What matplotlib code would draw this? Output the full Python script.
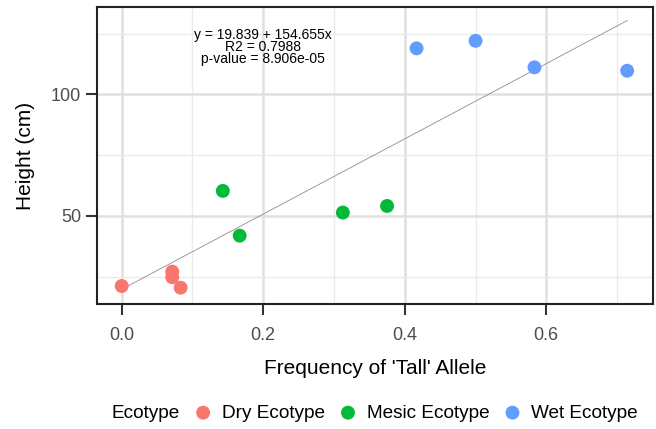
import numpy as np
import matplotlib.pyplot as plt
from matplotlib.ticker import MultipleLocator

plt.rcParams['font.family'] = ['Liberation Sans', 'DejaVu Sans']

# data
dry_x = [0.0, 0.0714, 0.0714, 0.0833]
dry_y = [21.2, 27.1, 24.8, 20.5]
mesic_x = [0.1429, 0.1667, 0.3125, 0.375]
mesic_y = [60.3, 41.9, 51.4, 54.1]
wet_x = [0.4167, 0.5, 0.5833, 0.7143]
wet_y = [118.9, 122.0, 111.1, 109.7]

groups = ["Dry Ecotype", "Mesic Ecotype", "Wet Ecotype"]
colors = ["#F8766D", "#00BA38", "#619CFF"]

intercept = 19.839
slope = 154.655
r2 = 0.7988
pval = "8.906e-05"


def main():
    fig = plt.figure(figsize=(6.56, 4.29), dpi=100)
    ax = fig.add_axes([97 / 656, 1 - 304 / 429, 556 / 656, 297 / 429])

    xs = [dry_x, mesic_x, wet_x]
    ys = [dry_y, mesic_y, wet_y]
    handles = []
    for gx, gy, c, name in zip(xs, ys, colors, groups):
        h = ax.scatter(gx, gy, s=100, color=c, edgecolors='none', zorder=3,
                       label=name)
        handles.append(h)

    allx = np.array(dry_x + mesic_x + wet_x)
    lx = np.array([allx.min(), allx.max()])
    ax.plot(lx, intercept + slope * lx, color='#8c8c8c', lw=0.6, zorder=2)

    ax.text(0.2, 119.6, "y = %.3f + %.3fx\nR2 = %.4f\np-value = %s"
            % (intercept, slope, r2, pval),
            ha='center', va='center', fontsize=10, linespacing=0.82,
            color='black', zorder=4)

    ax.set_xlim(-0.0349, 0.7508)
    ax.set_ylim(13.8, 135.9)
    ax.xaxis.set_major_locator(MultipleLocator(0.2))
    ax.xaxis.set_minor_locator(MultipleLocator(0.1))
    ax.yaxis.set_major_locator(MultipleLocator(50))
    ax.yaxis.set_minor_locator(MultipleLocator(25))
    ax.xaxis.set_major_formatter(lambda v, p: "%.1f" % v)
    ax.grid(which='major', color='#e0e0e0', lw=1.8, zorder=0)
    ax.grid(which='minor', color='#ebebeb', lw=1.0, zorder=0)
    ax.set_axisbelow(True)
    ax.tick_params(which='minor', length=0)
    ax.tick_params(which='major', length=8, width=1.5, color='#333333',
                   labelsize=13, labelcolor='#4d4d4d')
    ax.tick_params(axis='x', pad=8.5)
    ax.tick_params(axis='y', pad=3.5)
    for sp in ax.spines.values():
        sp.set_linewidth(1.5)
        sp.set_color('#222222')

    ax.set_xlabel("Frequency of 'Tall' Allele", fontsize=15, labelpad=11)
    ax.set_ylabel("Height (cm)", fontsize=15, labelpad=11)

    fig.text(111 / 656, 1 - 414 / 429, "Ecotype", fontsize=13.7,
             va='center', ha='left')
    fig.legend(handles=handles, labels=groups, ncol=3, frameon=False,
               loc='center left', bbox_to_anchor=(186 / 656, 1 - 413 / 429),
               fontsize=13.7, handlelength=1.0, handletextpad=0.5,
               columnspacing=0.7, borderaxespad=0, scatterpoints=1,
               markerscale=1.0)

    fig.savefig("out.png", dpi=100)


if __name__ == "__main__":
    main()
